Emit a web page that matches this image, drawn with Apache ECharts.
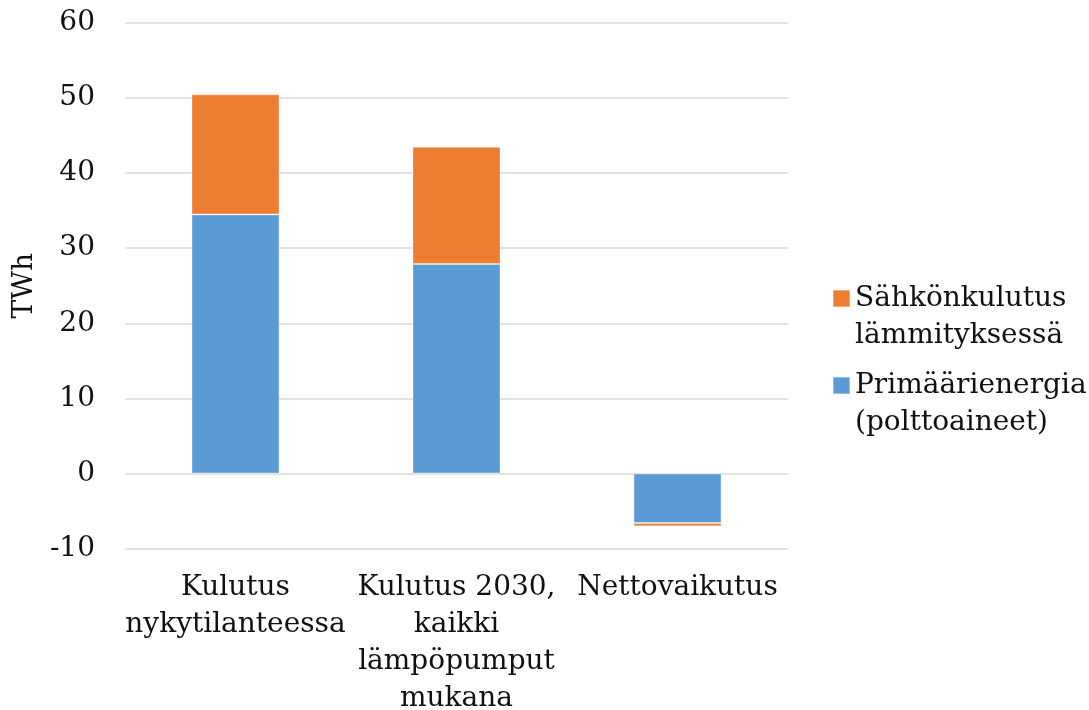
<!DOCTYPE html>
<html>
<head>
<meta charset="utf-8">
<script src="https://cdn.jsdelivr.net/npm/echarts@6/dist/echarts.min.js"></script>
<style>
html,body{margin:0;padding:0;background:#fff;}
#chart{width:1089px;height:710px;}
</style>
</head>
<body>
<div id="chart"></div>
<script>
const categories = ['Kulutus\nnykytilanteessa', 'Kulutus 2030,\nkaikki\nlämpöpumput\nmukana', 'Nettovaikutus'];
const primaryName = 'Primäärienergia\n(polttoaineet)';
const electricName = 'Sähkönkulutus\nlämmityksessä';
const primaryValues = [34.5, 27.9, -6.6];
const electricValues = [16.0, 15.6, -0.45];
const yTicks = { min: -10, max: 60, interval: 10 };
const yAxisTitle = 'TWh';

const FONT = 'DejaVu Serif';
const chart = echarts.init(document.getElementById('chart'), null, { renderer: 'canvas' });
chart.setOption({
  animation: false,
  backgroundColor: '#ffffff',
  textStyle: { fontFamily: FONT },
  grid: { left: 125, right: 301, top: 23, height: 525.5, containLabel: false, outerBoundsMode: 'none' },
  legend: {
    orient: 'vertical',
    left: 832,
    top: 243,
    padding: 0,
    itemWidth: 17,
    itemHeight: 17,
    itemGap: -24,
    icon: 'rect',
    data: [electricName, primaryName],
    formatter: function (name) { return ' \n' + name; },
    textStyle: { fontFamily: FONT, fontSize: 28, color: '#111', lineHeight: 37 }
  },
  xAxis: {
    type: 'category',
    data: categories,
    axisLine: { show: false, onZero: false },
    axisTick: { show: false },
    axisLabel: { fontFamily: FONT, fontSize: 28, color: '#111', lineHeight: 37, margin: 21, interval: 0 }
  },
  yAxis: {
    type: 'value',
    min: yTicks.min,
    max: yTicks.max,
    interval: yTicks.interval,
    name: yAxisTitle,
    nameLocation: 'middle',
    nameRotate: 90,
    nameGap: 81,
    nameTextStyle: { fontFamily: FONT, fontSize: 28, color: '#111' },
    axisLine: { show: false },
    axisTick: { show: false },
    axisLabel: { fontFamily: FONT, fontSize: 28, color: '#111', margin: 30 },
    splitLine: { lineStyle: { color: '#d9d9d9', width: 1.5 } }
  },
  series: [
    {
      name: primaryName,
      type: 'bar',
      stack: 'total',
      barWidth: 88,
      data: primaryValues,
      itemStyle: { color: '#5B9BD5', borderColor: 'rgba(255,255,255,0.35)', borderWidth: 1 }
    },
    {
      name: electricName,
      type: 'bar',
      stack: 'total',
      barWidth: 88,
      data: electricValues,
      itemStyle: { color: '#ED7D31', borderColor: 'rgba(255,255,255,0.35)', borderWidth: 1 }
    }
  ]
});
</script>
</body>
</html>
